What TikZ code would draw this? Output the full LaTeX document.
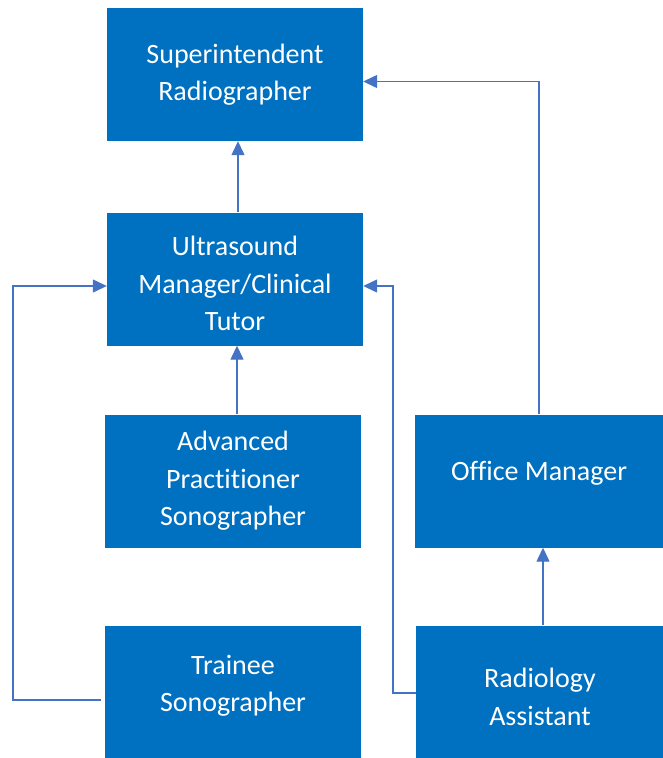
\documentclass[tikz,border=0pt]{standalone}
\usepackage{fontspec}
\setmainfont{Carlito}[Ligatures=NoCommon]
\usetikzlibrary{arrows.meta}

\definecolor{boxblue}{RGB}{0,112,192}
\definecolor{lineblue}{RGB}{68,114,196}

\tikzset{
    rolebox/.style = {fill=boxblue, inner sep=0pt},
    leftbox/.style = {rolebox, minimum width=256pt, minimum height=133pt},
    rightbox/.style = {rolebox, minimum width=248pt, minimum height=133pt},
    roletext/.style = {text=white, align=center, inner sep=0pt,
                       font=\fontsize{28}{37.5}\selectfont},
    link/.style = {draw=lineblue, line width=1.3pt,
                   -{Triangle[length=14pt,width=13pt]}},
}

\begin{document}
\begin{tikzpicture}[x=1pt, y=-1pt]
    \useasboundingbox (0,0) rectangle (663,758);

    % boxes
    \node[leftbox]  (super)   at (235, 74.5) {};
    \node[leftbox]  (usmgr)   at (235, 279)  {};
    \node[leftbox]  (advprac) at (233, 481)  {};
    \node[leftbox]  (trainee) at (233, 692)  {};
    \node[rightbox] (office)  at (539, 481)  {};
    \node[rightbox] (radasst) at (540, 692)  {};

    % texts
    \node[roletext] (supertxt)   at (super.center)                {Superintendent\\Radiographer};
    \node[roletext] (usmgrtxt)   at ([yshift=-4.5pt]usmgr.center) {Ultrasound\\Manager/Clinical\\Tutor};
    \node[roletext] (advpractxt) at (advprac.center)              {Advanced\\Practitioner\\Sonographer};
    \node[roletext] (traineetxt) at ([yshift=6pt]trainee.center)  {Trainee\\Sonographer};
    \node[roletext] (officetxt)  at ([yshift=8pt]office.center)   {Office Manager};
    \node[roletext] (radassttxt) at ([yshift=-5pt]radasst.center) {Radiology\\Assistant};

    % bends
    \coordinate (tbend) at (13, 700);
    \coordinate (rbend) at (393, 693);

    % links
    \draw[link] ([xshift=3pt]usmgr.north) -- ([xshift=3pt]super.south);
    \draw[link] ([xshift=4pt]advprac.north) -- ([xshift=4pt]advprac.north |- usmgr.south);
    \draw[link] ([xshift=3pt]radasst.north) -- ([xshift=3pt]radasst.north |- office.south);
    \draw[link] (office.north) |- ([yshift=-7pt]super.east);
    \draw[link] ([xshift=-4pt]trainee.west |- tbend) -- (tbend) |- ([yshift=-7pt]usmgr.west);
    \draw[link] (radasst.west |- rbend) -- (rbend) |- ([yshift=-7pt]usmgr.east);
\end{tikzpicture}
\end{document}
